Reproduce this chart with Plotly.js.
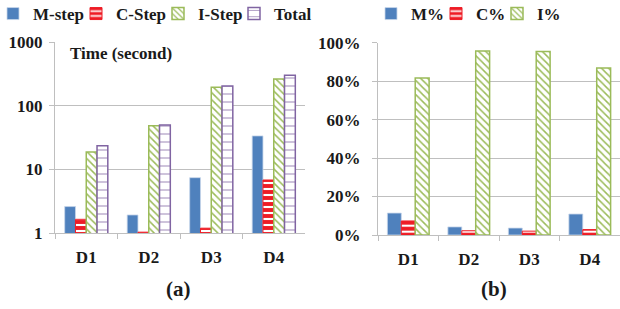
<!DOCTYPE html>
<html>
<head>
<meta charset="utf-8">
<script src="https://cdn.plot.ly/plotly-3.0.1.min.js"></script>
<style>html,body{margin:0;padding:0;background:#fff;}#chart{width:620px;height:309px;}</style>
</head>
<body>
<div id="chart"></div>
<script>
// ---- data ----
const categories = ["D1", "D2", "D3", "D4"];
// (a) Time (second), log scale
const mStep = [2.6, 1.92, 7.4, 33.5];
const cStep = [1.64, 1.03, 1.19, 6.8];
const iStep = [18.7, 48.4, 194, 263];
const total = [23.4, 49.7, 204, 300];
// (b) share of time
const mPct = [0.114, 0.042, 0.036, 0.109];
const cPct = [0.073, 0.022, 0.020, 0.028];
const iPct = [0.817, 0.957, 0.954, 0.868];
const logTickVals = [1, 10, 100, 1000];
const logTickText = ["1", "10", "100", "1000"];
const pctTickVals = [0, 0.2, 0.4, 0.6, 0.8, 1.0];
const pctTickText = ["0%", "20%", "40%", "60%", "80%", "100%"];

// ---- styles ----
const FONT = "Liberation Serif, Times New Roman, serif";
const BLUE = "#4F81BD", RED = "#EE1C25", GREEN = "#9BBB59", PURPLE = "#8064A2";
const GRID = "#BFBFBF";

const mStyle = {color: BLUE, line: {color: "#C6D5EA", width: 0.8}};
const cStyle = {color: RED, line: {color: RED, width: 1},
  pattern: {shape: "-", bgcolor: RED, fgcolor: "#FFFFFF", size: 6, solidity: 0.35}};
const iStyle = {color: GREEN, line: {color: GREEN, width: 1.5},
  pattern: {shape: "\\", bgcolor: "#FFFFFF", fgcolor: GREEN, size: 5, solidity: 0.3}};
const tStyle = {color: PURPLE, line: {color: PURPLE, width: 1.5},
  pattern: {shape: "-", bgcolor: "#FFFFFF", fgcolor: PURPLE, fgopacity: 0.75, size: 8, solidity: 0.13}};

const traces = [
  {type: "bar", name: "M-step", x: categories, y: mStep, marker: mStyle, xaxis: "x", yaxis: "y", legend: "legend"},
  {type: "bar", name: "C-Step", x: categories, y: cStep, marker: cStyle, xaxis: "x", yaxis: "y", legend: "legend2"},
  {type: "bar", name: "I-Step", x: categories, y: iStep, marker: iStyle, xaxis: "x", yaxis: "y", legend: "legend3"},
  {type: "bar", name: "Total", x: categories, y: total, marker: tStyle, xaxis: "x", yaxis: "y", legend: "legend4"},
  {type: "bar", name: "M%", x: categories, y: mPct, marker: mStyle, xaxis: "x2", yaxis: "y2", legend: "legend5"},
  {type: "bar", name: "C%", x: categories, y: cPct, marker: cStyle, xaxis: "x2", yaxis: "y2", legend: "legend6"},
  {type: "bar", name: "I%", x: categories, y: iPct, marker: iStyle, xaxis: "x2", yaxis: "y2", legend: "legend7"}
];

const tickFont = {family: FONT, size: 17, color: "#1a1a1a", weight: "bold"};
const xCommon = {
  type: "category", showgrid: false, showline: true, linecolor: GRID, linewidth: 1,
  ticks: "outside", tickson: "boundaries", ticklen: 5, tickcolor: GRID,
  tickfont: tickFont, ticklabelstandoff: 9, fixedrange: true, automargin: false
};
const yCommon = {
  showgrid: true, gridcolor: GRID, gridwidth: 1, showline: true, linecolor: GRID,
  ticks: "outside", ticklen: 5, tickcolor: GRID, tickfont: tickFont, zeroline: false,
  fixedrange: true, automargin: false
};

function legendAt(px) {
  return {orientation: "h", x: px/620, xanchor: "left", y: 1 + 4/309, yanchor: "top",
    itemwidth: 30, font: {family: FONT, size: 17, color: "#1a1a1a", weight: "bold"},
    bgcolor: "rgba(0,0,0,0)", borderwidth: 0};
}

const layout = {
  width: 620, height: 309,
  margin: {l: 0, r: 0, t: 0, b: 0, autoexpand: false},
  paper_bgcolor: "#fff", plot_bgcolor: "#fff",
  barmode: "group", bargap: 0.31, bargroupgap: 0,
  showlegend: true,
  font: {family: FONT, size: 17, color: "#1a1a1a"},
  xaxis: Object.assign({}, xCommon, {domain: [55/620, 305/620], anchor: "y"}),
  yaxis: Object.assign({}, yCommon, {type: "log", range: [0, 3], domain: [1-233/309, 1-42/309],
    tickvals: logTickVals, ticktext: logTickText, anchor: "x", ticklabelstandoff: 3}),
  xaxis2: Object.assign({}, xCommon, {domain: [378/620, 1], anchor: "y2"}),
  yaxis2: Object.assign({}, yCommon, {range: [0, 1], domain: [1-235/309, 1-42.7/309],
    tickvals: pctTickVals, ticktext: pctTickText, anchor: "x2", ticklabelstandoff: 8}),
  legend: legendAt(-7),
  legend2: legendAt(76),
  legend3: legendAt(158),
  legend4: legendAt(234),
  legend5: legendAt(371),
  legend6: legendAt(436),
  legend7: legendAt(497),
  annotations: [
    {text: "Time (second)", xref: "paper", yref: "paper", x: 68/620, y: 1-53.5/309,
     xanchor: "left", yanchor: "middle", showarrow: false,
     font: {family: FONT, size: 17, color: "#1a1a1a", weight: "bold"}},
    {text: "(a)", xref: "paper", yref: "paper", x: 178/620, y: 1-289/309,
     xanchor: "center", yanchor: "middle", showarrow: false,
     font: {family: FONT, size: 21, color: "#1a1a1a", weight: "bold"}},
    {text: "(b)", xref: "paper", yref: "paper", x: 494/620, y: 1-289/309,
     xanchor: "center", yanchor: "middle", showarrow: false,
     font: {family: FONT, size: 21, color: "#1a1a1a", weight: "bold"}}
  ]
};

Plotly.newPlot("chart", traces, layout, {displayModeBar: false, staticPlot: true});
</script>
</body>
</html>
